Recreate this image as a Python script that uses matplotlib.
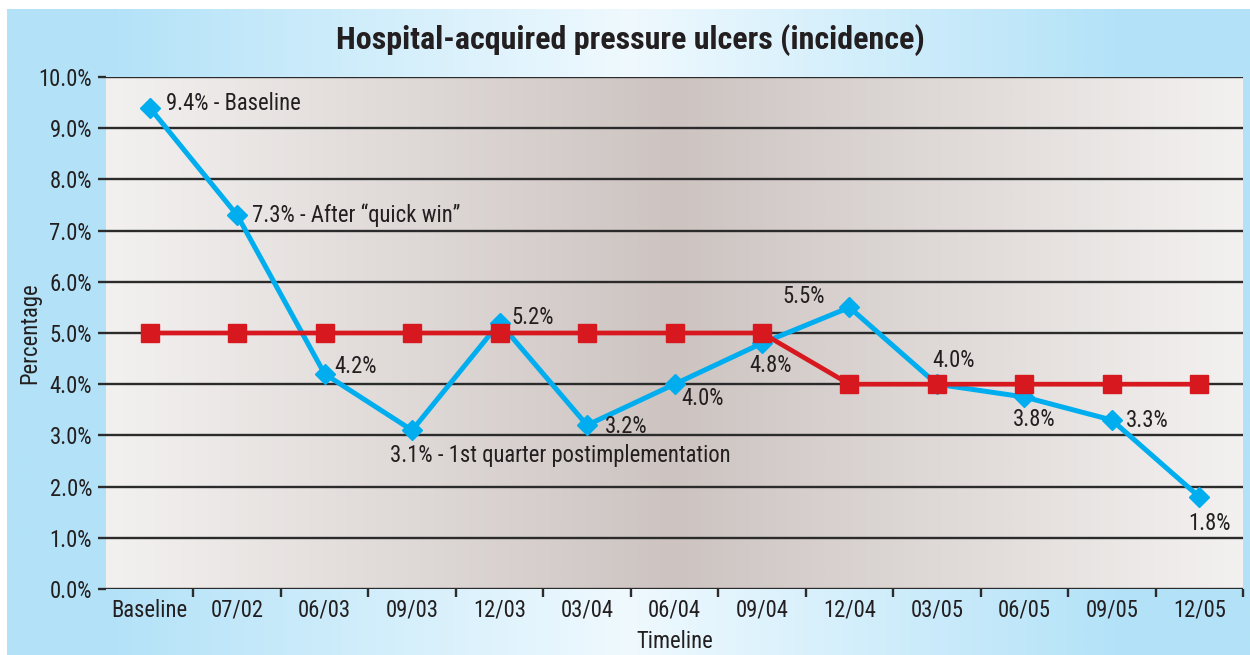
import numpy as np
import matplotlib.pyplot as plt
from matplotlib.colors import LinearSegmentedColormap

# --data--
timeline = ['Baseline', '07/02', '06/03', '09/03', '12/03', '03/04', '06/04',
            '09/04', '12/04', '03/05', '06/05', '09/05', '12/05']
incidence = [9.4, 7.3, 4.2, 3.1, 5.2, 3.2, 4.0, 4.8, 5.5, 4.0, 3.75, 3.3, 1.8]
target = [5.0, 5.0, 5.0, 5.0, 5.0, 5.0, 5.0, 5.0, 4.0, 4.0, 4.0, 4.0, 4.0]
point_labels = ['9.4% - Baseline', '7.3% - After \u201cquick win\u201d', '4.2%',
                '3.1% - 1st quarter postimplementation', '5.2%', '3.2%', '4.0%',
                '4.8%', '5.5%', '4.0%', '3.8%', '3.3%', '1.8%']
y_ticks = [0, 1, 2, 3, 4, 5, 6, 7, 8, 9, 10]

# label offsets in pixels (dx, dy, ha)
label_pos = [(16, 4, 'left'), (15, 0, 'left'), (10, 7, 'left'),
             (-22, -25, 'left'), (12, 5, 'left'), (18, -1, 'left'),
             (7, -14, 'left'), (9, -22, 'center'), (-46, 11, 'center'),
             (17, 24, 'center'), (10, -23, 'center'), (14, 0, 'left'),
             (10, -27, 'center')]

plt.rcParams['font.family'] = ['Roboto Condensed', 'DejaVu Sans']
txt_color = '#231f20'
blue = '#00aeef'
red = '#d7191f'
fs = 16.3

fig = plt.figure(figsize=(12.5, 6.55), dpi=100, facecolor='white')

# outer blue gradient background
bg = fig.add_axes([7 / 1250, 0, 1 - 7 / 1250, 1 - 9 / 655], zorder=-10)
bg_cmap = LinearSegmentedColormap.from_list(
    'outer', [(0.0, '#b3e2f8'), (0.08, '#b3e2f8'), (0.5, '#eff9fe'),
              (0.9, '#b3e2f8'), (1.0, '#b3e2f8')])
bg.imshow(np.linspace(0, 1, 512)[None, :], aspect='auto', cmap=bg_cmap,
          extent=[0, 1, 0, 1])
bg.axis('off')

ax = fig.add_axes([106 / 1250, 1 - 589 / 655, (1243 - 106) / 1250, (589 - 77) / 655])
ax.set_facecolor('none')
plot_cmap = LinearSegmentedColormap.from_list(
    'plot', [(0.0, '#f3f1f0'), (0.5, '#cdc4c1'), (1.0, '#f3f1f0')])
ax.imshow(np.linspace(0, 1, 512)[None, :], aspect='auto', cmap=plot_cmap,
          extent=[-0.5, len(timeline) - 0.5, 0, 10], zorder=0)

x = np.arange(len(timeline))
ax.set_xlim(-0.5, len(timeline) - 0.5)
ax.set_ylim(0, 10)

for v in y_ticks:
    ax.axhline(v, color='#2b2b2b', lw=1.7, zorder=1)

ax.plot(x, incidence, color=blue, lw=3.6, marker='D', ms=10, zorder=3,
        solid_joinstyle='miter')
ax.plot(x, target, color=red, lw=3.4, marker='s', ms=12.5, zorder=4)

for xi, yi, lab, (dx, dy, ha) in zip(x, incidence, point_labels, label_pos):
    ax.annotate(lab, (xi, yi), xytext=(dx, dy), textcoords='offset pixels',
                ha=ha, va='center', fontsize=fs, color=txt_color, zorder=5)

ax.set_yticks(y_ticks)
ax.set_yticklabels(['%.1f%%' % v for v in y_ticks], fontsize=fs, color=txt_color)
ax.set_xticks(x)
ax.set_xticklabels(timeline, fontsize=fs, color=txt_color)
ax.set_xticks(np.arange(0.5, len(timeline), 1.0), minor=True)
ax.tick_params(axis='x', which='major', length=0, pad=7)
ax.tick_params(axis='x', which='minor', length=6, width=1.7, color='#2b2b2b',
               direction='out')
ax.tick_params(axis='y', length=6, width=1.7, color='#2b2b2b', pad=4)
for s in ax.spines.values():
    s.set_visible(False)

ax.set_ylabel('Percentage', fontsize=fs, color=txt_color, labelpad=-2)
ax.set_xlabel('Timeline', fontsize=fs, color=txt_color, labelpad=6)
fig.text(0.504, 1 - 40 / 655, 'Hospital-acquired pressure ulcers (incidence)',
         ha='center', va='center', fontsize=23, fontweight='bold', color=txt_color)

fig.savefig('out.png', dpi=100)
